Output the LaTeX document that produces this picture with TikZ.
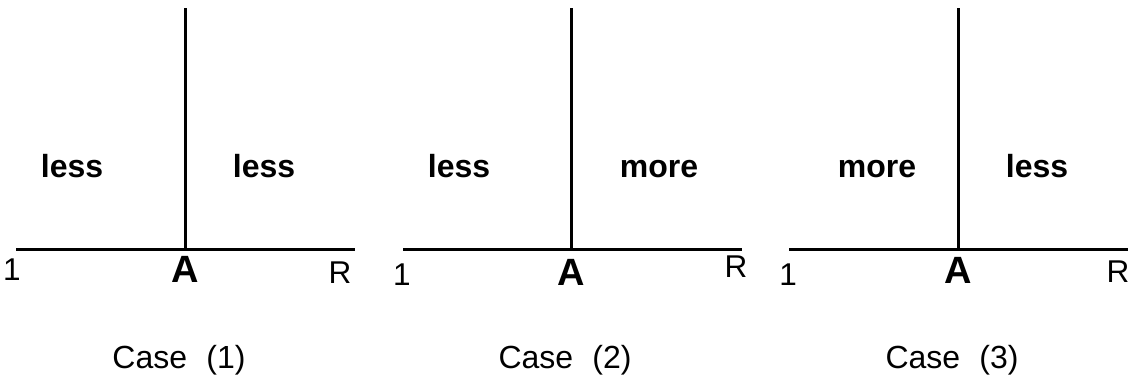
\documentclass[tikz,border=0pt]{standalone}
\usepackage{fontspec}
\setmainfont{Liberation Sans}
\usetikzlibrary{positioning}

\begin{document}
\begin{tikzpicture}[
    x=1pt, y=-1pt,
    axis/.style={line width=3pt},
    side/.style={anchor=base, font=\fontsize{32}{38}\selectfont\bfseries},
    tick/.style={anchor=base, font=\fontsize{31.5}{38}\selectfont},
    pivot/.style={anchor=base, font=\fontsize{38}{44}\selectfont\bfseries},
    caption/.style={anchor=base, font=\fontsize{32}{38}\selectfont}
]
\useasboundingbox (0,0) rectangle (1135,381);

% case 1
\coordinate (l1) at (16,249);
\coordinate (r1) at (355,249);
\coordinate (a1) at (185,249);
\coordinate (t1) at (185,8);
\draw[axis] (l1) -- (r1);
\draw[axis] (a1) -- (t1);
\node[side] (lft1) at (72,177) {less};
\node[side] (rgt1) at (264,177) {less};
\node[tick] (one1) at (12,280) {1};
\node[pivot] (A1) at (185,282) {A};
\node[tick] (R1) at (340,283) {R};
\node[caption] (cap1) at (179,368) {Case\hspace{0.6em}(1)};

% case 2
\coordinate (l2) at (403,249);
\coordinate (r2) at (742,249);
\coordinate (a2) at (571,249);
\coordinate (t2) at (571,8);
\draw[axis] (l2) -- (r2);
\draw[axis] (a2) -- (t2);
\node[side] (lft2) at (459,177) {less};
\node[side] (rgt2) at (659,177) {more};
\node[tick] (one2) at (402,285) {1};
\node[pivot] (A2) at (571,285) {A};
\node[tick] (R2) at (736,277) {R};
\node[caption] (cap2) at (565,368) {Case\hspace{0.6em}(2)};

% case 3
\coordinate (l3) at (789,249);
\coordinate (r3) at (1128,249);
\coordinate (a3) at (958,249);
\coordinate (t3) at (958,8);
\draw[axis] (l3) -- (r3);
\draw[axis] (a3) -- (t3);
\node[side] (lft3) at (877,177) {more};
\node[side] (rgt3) at (1037,177) {less};
\node[tick] (one3) at (788,285) {1};
\node[pivot] (A3) at (958,283) {A};
\node[tick] (R3) at (1118,282) {R};
\node[caption] (cap3) at (952,368) {Case\hspace{0.6em}(3)};
\end{tikzpicture}
\end{document}
